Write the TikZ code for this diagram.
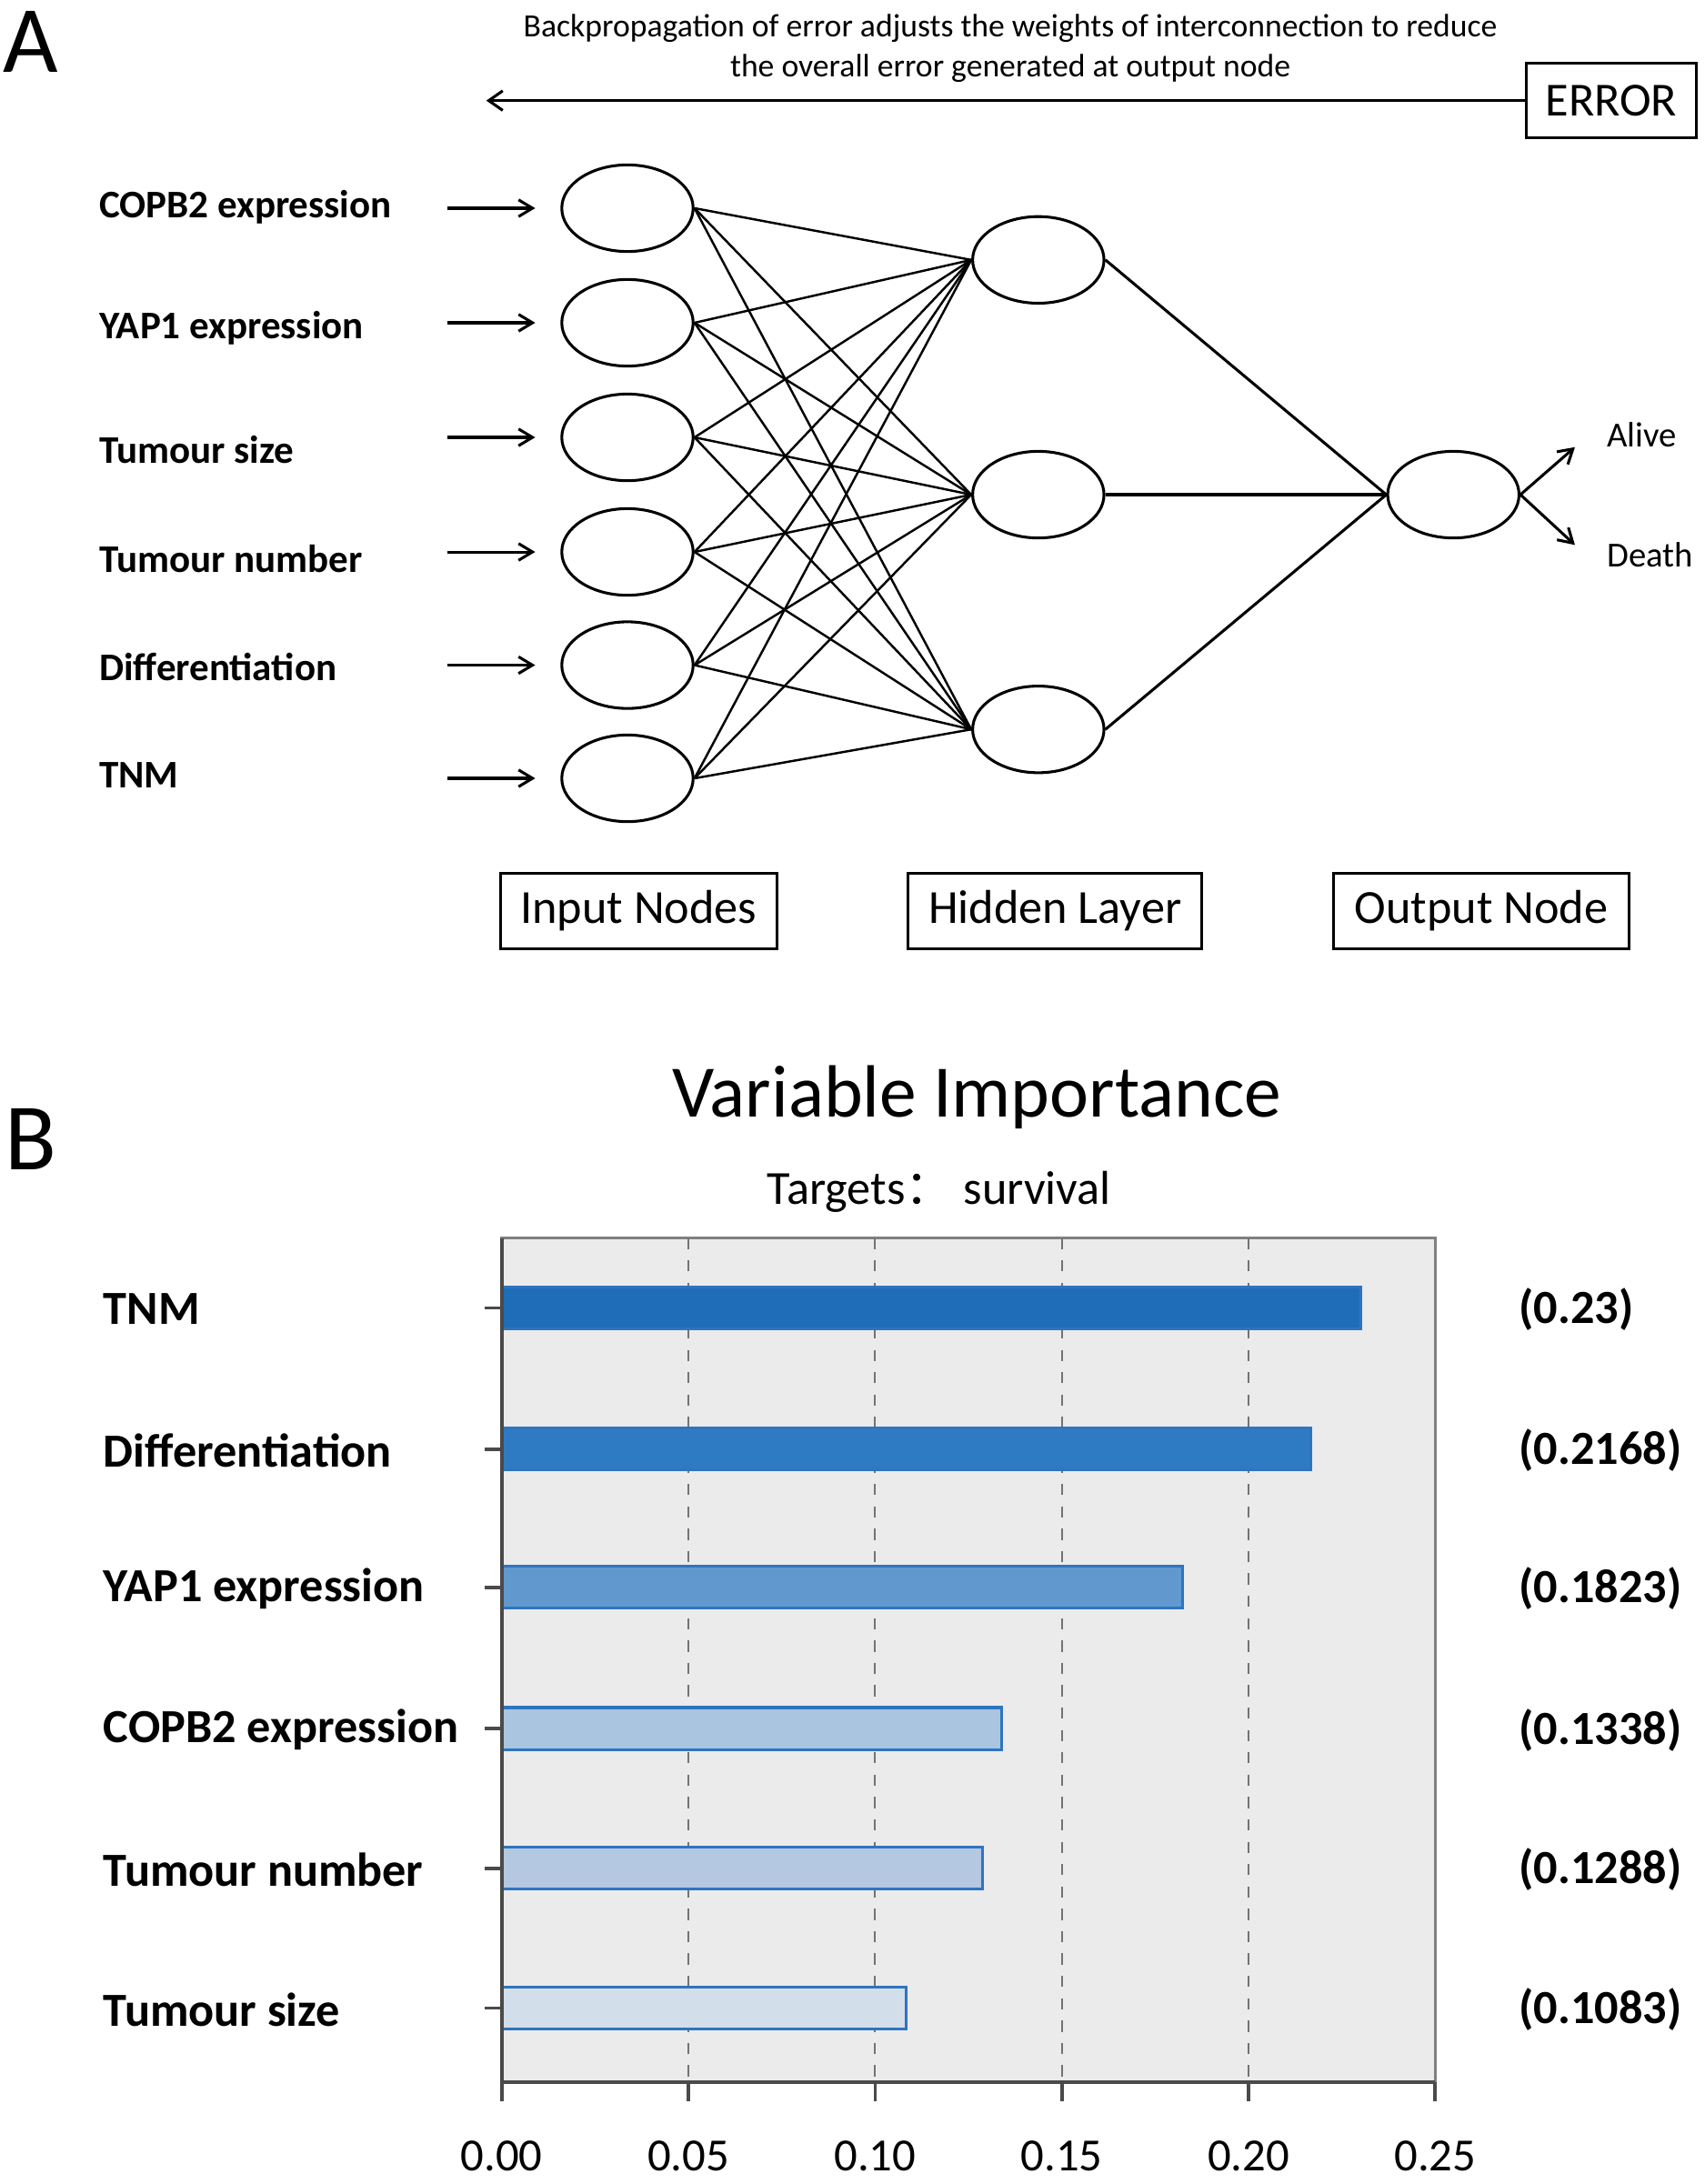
\documentclass[tikz,border=0pt]{standalone}
\usepackage{fontspec}
\setmainfont{Carlito}
\newfontfamily\cjk{Noto Sans CJK SC}
\usetikzlibrary{shapes.geometric,arrows.meta}

\definecolor{barA}{HTML}{1F6DB8}
\definecolor{barB}{HTML}{2E7BC3}
\definecolor{barC}{HTML}{6199CF}
\definecolor{barD}{HTML}{A9C5E0}
\definecolor{barE}{HTML}{B4C8E2}
\definecolor{barF}{HTML}{D3DEEB}
\definecolor{barrim}{HTML}{2F74BF}
\definecolor{panel}{HTML}{EBEBEB}
\definecolor{rim}{HTML}{4A4A4A}

\begin{document}
\begin{tikzpicture}[x=0.5pt,y=-0.5pt,
    neuron/.style={ellipse,draw,line width=1pt,minimum width=47pt,minimum height=31pt,inner sep=0pt},
    layerbox/.style={draw,line width=1pt,font=\fontsize{17}{20}\selectfont,minimum height=27pt,inner sep=0pt},
    link/.style={line width=0.8pt},
    feed/.style={line width=1pt,-{Straight Barb[length=5pt,width=6pt]}},
    varname/.style={anchor=west,font=\bfseries\fontsize{17}{20}\selectfont},
    varvalue/.style={anchor=west,font=\bfseries\fontsize{17}{20}\selectfont},
    ticklabel/.style={font=\fontsize{16.5}{19}\selectfont}]
    \useasboundingbox (0,0) rectangle (1220,1563);

    \node (pA) at (22,30) {\fontsize{34}{40}\selectfont A};
    \node (pB) at (22,815) {\fontsize{34}{40}\selectfont B};

    \node [draw,line width=1pt,minimum width=61pt,minimum height=26.5pt,inner sep=0pt,
        font=\fontsize{17}{20}\selectfont] (err) at (1153,72) {ERROR};
    \coordinate (back) at (348,72);
    \draw [line width=1pt,-{Straight Barb[length=5pt,width=7pt]}] (err) -- (back);
    \node [align=center,font=\fontsize{11.6}{14.5}\selectfont] (note) at (723,34.5)
        {Backpropagation of error adjusts the weights of interconnection to reduce\\
         the overall error generated at output node};

    \foreach \i/\yy/\ly/\txt in {1/149/148/COPB2 expression,2/231/235/YAP1 expression,
        3/313/322/Tumour size,4/395/400/Tumour number,5/476/477/Differentiation,6/557/555/TNM} {
        \node [neuron] (in\i) at (449,\yy) {};
        \node [anchor=west,font=\bfseries\fontsize{14}{16}\selectfont] (lbl\i) at (64,\ly) {\txt};
        \coordinate (src\i) at (320,\yy);
        \draw [feed] (src\i) -- ([xshift=-9pt]in\i.west);
    }

    \foreach \j/\yy in {1/186,2/354,3/522}
        \node [neuron] (hid\j) at (743,\yy) {};
    \node [neuron] (out) at (1040,354) {};

    \foreach \i in {1,...,6}
        \foreach \j in {1,2,3}
            \draw [link] (in\i.east) -- (hid\j.west);
    \foreach \j in {1,2,3}
        \draw [link,line width=1pt] (hid\j.east) -- (out.west);

    \coordinate (alive) at (1127,320);
    \coordinate (death) at (1127,390);
    \draw [feed] (out.east) -- (alive);
    \draw [feed] (out.east) -- (death);
    \node [anchor=west,font=\fontsize{12.6}{15}\selectfont] (lalive) at (1143,311) {Alive};
    \node [anchor=west,font=\fontsize{12.6}{15}\selectfont] (ldeath) at (1143,397) {Death};

    \node [layerbox,minimum width=99pt] (inbox) at (457,652) {Input Nodes};
    \node [layerbox,minimum width=105pt] (hidbox) at (755,652) {Hidden Layer};
    \node [layerbox,minimum width=106pt] (outbox) at (1060,652) {Output Node};

    \node [font=\fontsize{26.5}{31}\selectfont] (title) at (699,785) {Variable Importance};
    \node [font=\fontsize{17}{20}\selectfont] (target) at (672,853) {Targets{\cjk ：}\ survival};

    \draw [draw=rim!70,line width=0.8pt,fill=panel] (359,886) rectangle (1027,1490);
    \foreach \k in {1,...,4}
        \draw [gray!90!black,line width=0.7pt,dash pattern=on 4pt off 4pt] ({359+133.6*\k},886) -- ({359+133.6*\k},1490);

    \foreach \v/\c/\yy/\txt in {0.23/barA/936/TNM,0.2168/barB/1037/Differentiation,
        0.1823/barC/1136/YAP1 expression,0.1338/barD/1237/COPB2 expression,
        0.1288/barE/1337/Tumour number,0.1083/barF/1437/Tumour size} {
        \draw [draw=barrim,line width=1pt,fill=\c] (359,{\yy-15}) rectangle ({359+2672*\v},{\yy+15});
        \draw [rim,line width=1.2pt] (347,\yy) -- (359,\yy);
        \node [varname] at (67,{\yy+1}) {\txt};
        \node [varvalue] at (1080,{\yy+1}) {(\v)};
    }

    \draw [rim,line width=1.2pt] (359,886) -- (359,1490);
    \draw [rim,line width=1.5pt] (359,1490) -- (1027,1490);
    \foreach \k/\t in {0/0.00,1/0.05,2/0.10,3/0.15,4/0.20,5/0.25} {
        \draw [rim,line width=1.2pt] ({359+133.6*\k},1490) -- ({359+133.6*\k},1504);
        \node [ticklabel] at ({359+133.6*\k},1543) {\t};
    }
\end{tikzpicture}
\end{document}
